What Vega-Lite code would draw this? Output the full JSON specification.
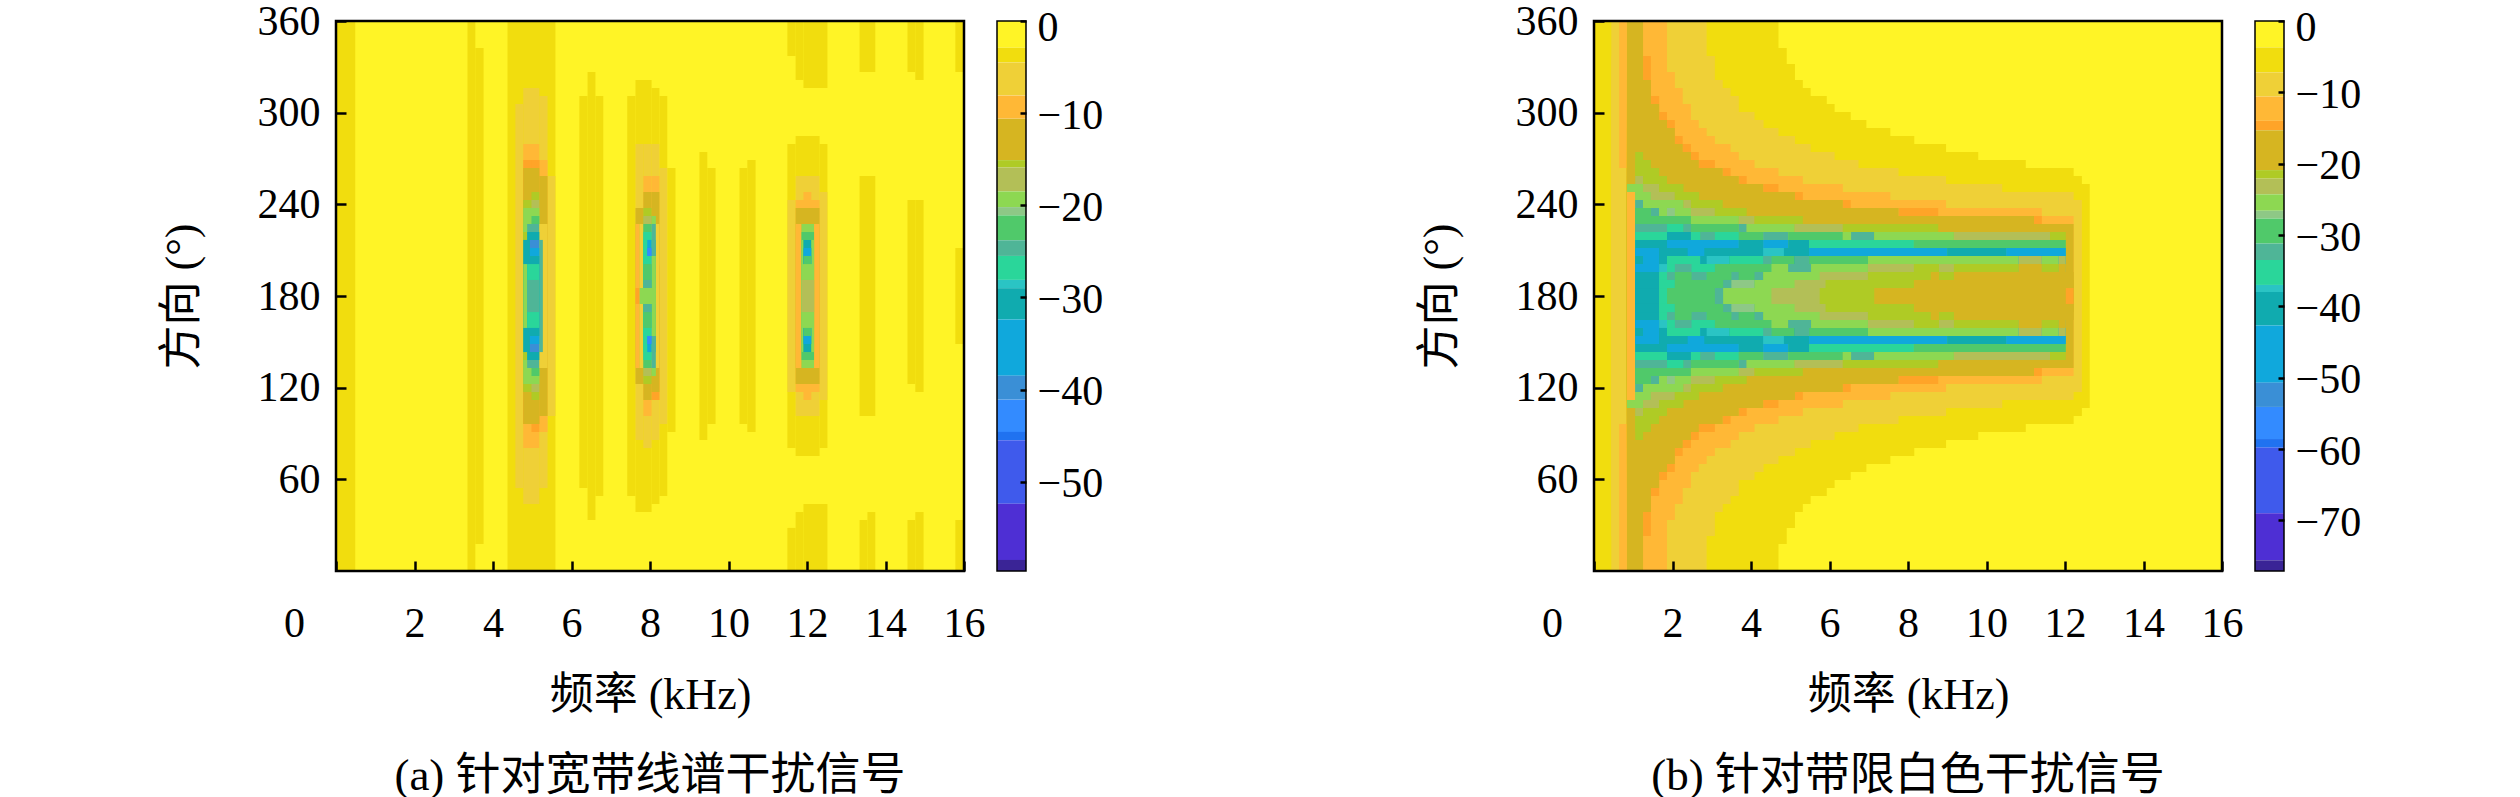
{
"$schema":"https://vega.github.io/schema/vega-lite/v6.json",
"padding":{"left":160,"top":0,"right":10,"bottom":5},
"bounds":"flush",
"spacing":1258,
"config":{"view":{"stroke":null},"font":"Liberation Serif, Noto Sans CJK SC",
"axis":{"labelFont":"Liberation Serif, Noto Sans CJK SC","titleFont":"Liberation Serif, Noto Sans CJK SC","labelFontSize":42,"titleFontSize":44,"titleFontWeight":"normal","labelColor":"#000","titleColor":"#000","grid":false,"domain":false,"tickColor":"#000","tickWidth":2.5,"labelOverlap":false,"labelBound":false,"labelFlush":false},
"title":{"font":"Liberation Serif, Noto Sans CJK SC","fontSize":45,"fontWeight":"normal","color":"#000"}},
"datasets":{
"a":[
{"f":0,"f2":16,"a":0,"a2":360,"v":-1.5},
{"f":0,"f2":0.49,"a":0,"a2":360,"v":-3.7},
{"f":3.35,"f2":3.55,"a":0,"a2":360,"v":-3.7},
{"f":3.55,"f2":3.76,"a":17.7,"a2":342.3,"v":-3.7},
{"f":4.37,"f2":5.59,"a":0,"a2":360,"v":-3.7},
{"f":6.2,"f2":6.41,"a":54.3,"a2":310.9,"v":-3.7},
{"f":6.41,"f2":6.61,"a":33.4,"a2":326.6,"v":-3.7},
{"f":6.61,"f2":6.81,"a":49.1,"a2":310.9,"v":-3.7},
{"f":7.42,"f2":7.63,"a":49.1,"a2":310.9,"v":-3.7},
{"f":7.63,"f2":8.04,"a":38.6,"a2":321.4,"v":-3.7},
{"f":8.04,"f2":8.24,"a":43.9,"a2":316.1,"v":-3.7},
{"f":8.24,"f2":8.44,"a":49.1,"a2":310.9,"v":-3.7},
{"f":8.44,"f2":8.65,"a":91,"a2":263.8,"v":-3.7},
{"f":9.26,"f2":9.46,"a":85.8,"a2":274.2,"v":-3.7},
{"f":9.46,"f2":9.67,"a":96.2,"a2":263.8,"v":-3.7},
{"f":10.28,"f2":10.48,"a":96.2,"a2":263.8,"v":-3.7},
{"f":10.48,"f2":10.69,"a":91,"a2":269,"v":-3.7},
{"f":11.5,"f2":11.71,"a":80.5,"a2":279.5,"v":-3.7},
{"f":11.71,"f2":12.32,"a":75.3,"a2":284.7,"v":-3.7},
{"f":12.32,"f2":12.52,"a":80.5,"a2":279.5,"v":-3.7},
{"f":11.5,"f2":11.71,"a":337.1,"a2":360,"v":-3.7},
{"f":11.71,"f2":11.91,"a":321.4,"a2":360,"v":-3.7},
{"f":11.91,"f2":12.52,"a":316.1,"a2":360,"v":-3.7},
{"f":11.5,"f2":11.71,"a":0,"a2":28.2,"v":-3.7},
{"f":11.71,"f2":11.91,"a":0,"a2":38.6,"v":-3.7},
{"f":11.91,"f2":12.52,"a":0,"a2":43.9,"v":-3.7},
{"f":13.34,"f2":13.74,"a":101.5,"a2":258.5,"v":-3.7},
{"f":13.34,"f2":13.74,"a":326.6,"a2":360,"v":-3.7},
{"f":13.34,"f2":13.54,"a":0,"a2":33.4,"v":-3.7},
{"f":13.54,"f2":13.74,"a":0,"a2":38.6,"v":-3.7},
{"f":14.56,"f2":14.76,"a":122.4,"a2":242.8,"v":-3.7},
{"f":14.76,"f2":14.97,"a":117.2,"a2":242.8,"v":-3.7},
{"f":14.56,"f2":14.76,"a":326.6,"a2":360,"v":-3.7},
{"f":14.76,"f2":14.97,"a":321.4,"a2":360,"v":-3.7},
{"f":14.56,"f2":14.76,"a":0,"a2":33.4,"v":-3.7},
{"f":14.76,"f2":14.97,"a":0,"a2":38.6,"v":-3.7},
{"f":15.78,"f2":16,"a":148.6,"a2":211.4,"v":-3.7},
{"f":15.78,"f2":16,"a":326.6,"a2":360,"v":-3.7},
{"f":15.78,"f2":16,"a":0,"a2":33.4,"v":-3.7},
{"f":4.57,"f2":4.77,"a":54.3,"a2":305.7,"v":-6},
{"f":4.77,"f2":5.18,"a":43.9,"a2":316.1,"v":-6},
{"f":5.18,"f2":5.39,"a":54.3,"a2":310.9,"v":-6},
{"f":5.39,"f2":5.59,"a":101.5,"a2":258.5,"v":-6},
{"f":7.63,"f2":7.83,"a":85.8,"a2":279.5,"v":-6},
{"f":7.83,"f2":8.04,"a":80.5,"a2":279.5,"v":-6},
{"f":8.04,"f2":8.24,"a":85.8,"a2":279.5,"v":-6},
{"f":8.24,"f2":8.44,"a":96.2,"a2":263.8,"v":-6},
{"f":11.71,"f2":12.32,"a":101.5,"a2":258.5,"v":-6},
{"f":11.5,"f2":11.71,"a":117.2,"a2":242.8,"v":-6},
{"f":12.32,"f2":12.52,"a":111.9,"a2":248.1,"v":-6},
{"f":4.77,"f2":5.18,"a":80.5,"a2":279.5,"v":-9.5},
{"f":5.18,"f2":5.39,"a":91,"a2":269,"v":-9.5},
{"f":7.83,"f2":8.04,"a":101.5,"a2":258.5,"v":-9.5},
{"f":8.04,"f2":8.24,"a":111.9,"a2":258.5,"v":-9.5},
{"f":11.91,"f2":12.11,"a":111.9,"a2":248.1,"v":-9.5},
{"f":11.71,"f2":12.32,"a":117.2,"a2":242.8,"v":-9.5},
{"f":4.77,"f2":5.18,"a":96.2,"a2":269,"v":-10.8},
{"f":4.98,"f2":5.18,"a":91,"a2":269,"v":-10.8},
{"f":8.04,"f2":8.24,"a":111.9,"a2":200,"v":-10.8},
{"f":4.77,"f2":5.18,"a":96.2,"a2":263.8,"v":-13},
{"f":5.18,"f2":5.39,"a":101.5,"a2":258.5,"v":-13},
{"f":7.63,"f2":7.83,"a":122.4,"a2":237.6,"v":-13},
{"f":7.83,"f2":8.04,"a":111.9,"a2":248.1,"v":-13},
{"f":8.04,"f2":8.24,"a":117.2,"a2":248.1,"v":-13},
{"f":11.71,"f2":12.32,"a":122.4,"a2":237.6,"v":-13},
{"f":4.98,"f2":5.18,"a":111.9,"a2":248.1,"v":-15.5},
{"f":4.77,"f2":4.98,"a":117.2,"a2":242.8,"v":-15.5},
{"f":4.98,"f2":5.18,"a":117.2,"a2":242.8,"v":-17},
{"f":4.77,"f2":5.18,"a":122.4,"a2":237.6,"v":-19.5},
{"f":4.98,"f2":5.18,"a":127.6,"a2":232.4,"v":-22.5},
{"f":4.77,"f2":4.87,"a":132.9,"a2":227.1,"v":-19.5},
{"f":4.87,"f2":5.18,"a":132.9,"a2":227.1,"v":-24.5},
{"f":5.18,"f2":5.39,"a":132.9,"a2":227.1,"v":-6},
{"f":4.77,"f2":4.87,"a":138.1,"a2":221.9,"v":-15.5},
{"f":4.87,"f2":5.18,"a":138.1,"a2":221.9,"v":-31},
{"f":4.77,"f2":4.94,"a":143.3,"a2":216.7,"v":-31},
{"f":4.94,"f2":5.18,"a":143.3,"a2":216.7,"v":-40},
{"f":5.18,"f2":5.27,"a":143.3,"a2":216.7,"v":-24.5},
{"f":4.94,"f2":5.18,"a":148.6,"a2":211.4,"v":-36},
{"f":4.94,"f2":5.18,"a":153.8,"a2":206.2,"v":-31},
{"f":4.77,"f2":4.87,"a":159.1,"a2":200.9,"v":-19.5},
{"f":4.87,"f2":5.18,"a":159.1,"a2":200.9,"v":-27},
{"f":4.87,"f2":5.18,"a":169.5,"a2":190.5,"v":-24.5},
{"f":7.83,"f2":8.04,"a":122.4,"a2":237.6,"v":-15.5},
{"f":7.83,"f2":8.04,"a":127.6,"a2":232.4,"v":-17},
{"f":8.04,"f2":8.15,"a":127.6,"a2":232.4,"v":-19.5},
{"f":7.63,"f2":7.73,"a":132.9,"a2":227.1,"v":-9.5},
{"f":7.73,"f2":7.83,"a":132.9,"a2":227.1,"v":-6},
{"f":7.83,"f2":8.04,"a":132.9,"a2":227.1,"v":-22.5},
{"f":8.04,"f2":8.15,"a":132.9,"a2":227.1,"v":-24.5},
{"f":8.15,"f2":8.24,"a":132.9,"a2":227.1,"v":-6},
{"f":7.83,"f2":8.04,"a":138.1,"a2":221.9,"v":-27},
{"f":7.83,"f2":7.93,"a":143.3,"a2":216.7,"v":-27},
{"f":7.93,"f2":8.04,"a":143.3,"a2":216.7,"v":-36},
{"f":8.04,"f2":8.15,"a":143.3,"a2":216.7,"v":-24.5},
{"f":7.93,"f2":8.04,"a":148.6,"a2":211.4,"v":-43},
{"f":7.83,"f2":8.04,"a":153.8,"a2":206.2,"v":-27},
{"f":8.04,"f2":8.15,"a":153.8,"a2":206.2,"v":-19.5},
{"f":7.83,"f2":8.04,"a":159.1,"a2":200.9,"v":-22.5},
{"f":7.83,"f2":8.04,"a":169.5,"a2":190.5,"v":-24.5},
{"f":7.73,"f2":8.15,"a":174.8,"a2":185.2,"v":-19.5},
{"f":7.63,"f2":7.73,"a":174.8,"a2":185.2,"v":-10.8},
{"f":11.71,"f2":11.86,"a":132.9,"a2":227.1,"v":-9.5},
{"f":11.86,"f2":12.18,"a":132.9,"a2":227.1,"v":-19.5},
{"f":12.18,"f2":12.32,"a":132.9,"a2":227.1,"v":-9.5},
{"f":11.86,"f2":12.18,"a":138.1,"a2":221.9,"v":-22.5},
{"f":11.86,"f2":11.91,"a":143.3,"a2":216.7,"v":-19.5},
{"f":11.91,"f2":12.11,"a":143.3,"a2":216.7,"v":-31},
{"f":12.11,"f2":12.18,"a":143.3,"a2":216.7,"v":-19.5},
{"f":11.91,"f2":12.11,"a":148.6,"a2":211.4,"v":-36},
{"f":11.91,"f2":12.11,"a":153.8,"a2":206.2,"v":-22.5},
{"f":11.86,"f2":12.18,"a":159.1,"a2":200.9,"v":-19.5},
{"f":11.86,"f2":12.18,"a":169.5,"a2":190.5,"v":-17}
],
"b":[
{"f":0,"f2":16,"a":0,"a2":360,"v":-2},
{"f":0,"f2":4.7,"a":0,"a2":360,"v":-5},
{"f":0,"f2":4.91,"a":17.7,"a2":342.3,"v":-5},
{"f":0,"f2":5.12,"a":28.2,"a2":331.8,"v":-5},
{"f":0,"f2":5.32,"a":38.6,"a2":321.4,"v":-5},
{"f":0,"f2":5.52,"a":43.9,"a2":316.1,"v":-5},
{"f":0,"f2":5.93,"a":49.1,"a2":310.9,"v":-5},
{"f":0,"f2":6.13,"a":54.3,"a2":305.7,"v":-5},
{"f":0,"f2":6.54,"a":59.6,"a2":300.4,"v":-5},
{"f":0,"f2":6.94,"a":64.8,"a2":295.2,"v":-5},
{"f":0,"f2":7.55,"a":70,"a2":290,"v":-5},
{"f":0,"f2":8.16,"a":75.3,"a2":284.7,"v":-5},
{"f":0,"f2":8.97,"a":80.5,"a2":279.5,"v":-5},
{"f":0,"f2":9.79,"a":85.8,"a2":274.2,"v":-5},
{"f":0,"f2":11,"a":91,"a2":269,"v":-5},
{"f":0,"f2":12.22,"a":96.2,"a2":263.8,"v":-5},
{"f":0,"f2":12.43,"a":101.5,"a2":258.5,"v":-5},
{"f":0,"f2":12.63,"a":106.7,"a2":253.3,"v":-5},
{"f":0.44,"f2":2.87,"a":0,"a2":360,"v":-9},
{"f":0.44,"f2":3.08,"a":22.9,"a2":337.1,"v":-9},
{"f":0.44,"f2":3.28,"a":38.6,"a2":321.4,"v":-9},
{"f":0.44,"f2":3.48,"a":43.9,"a2":316.1,"v":-9},
{"f":0.44,"f2":3.69,"a":49.1,"a2":310.9,"v":-9},
{"f":0.44,"f2":4.09,"a":59.6,"a2":300.4,"v":-9},
{"f":0.44,"f2":4.32,"a":64.8,"a2":295.2,"v":-9},
{"f":0.44,"f2":4.7,"a":70,"a2":290,"v":-9},
{"f":0.44,"f2":5.12,"a":75.3,"a2":284.7,"v":-9},
{"f":0.44,"f2":5.52,"a":80.5,"a2":279.5,"v":-9},
{"f":0.44,"f2":6.13,"a":85.8,"a2":274.2,"v":-9},
{"f":0.44,"f2":6.74,"a":91,"a2":269,"v":-9},
{"f":0.44,"f2":7.76,"a":96.2,"a2":263.8,"v":-9},
{"f":0.44,"f2":8.97,"a":101.5,"a2":258.5,"v":-9},
{"f":0.44,"f2":10.4,"a":106.7,"a2":253.3,"v":-9},
{"f":0.44,"f2":12.22,"a":111.9,"a2":248.1,"v":-9},
{"f":0.44,"f2":12.43,"a":117.2,"a2":242.8,"v":-9},
{"f":0.64,"f2":0.84,"a":0,"a2":96.2,"v":-12},
{"f":0.64,"f2":0.84,"a":263.8,"a2":360,"v":-12},
{"f":0.84,"f2":1.86,"a":0,"a2":360,"v":-12},
{"f":0.84,"f2":2.06,"a":33.4,"a2":326.6,"v":-12},
{"f":0.84,"f2":2.26,"a":43.9,"a2":316.1,"v":-12},
{"f":0.84,"f2":2.47,"a":54.3,"a2":305.7,"v":-12},
{"f":0.84,"f2":2.67,"a":64.8,"a2":295.2,"v":-12},
{"f":0.84,"f2":2.87,"a":70,"a2":290,"v":-12},
{"f":0.84,"f2":3.08,"a":75.3,"a2":284.7,"v":-12},
{"f":0.84,"f2":3.48,"a":80.5,"a2":279.5,"v":-12},
{"f":0.84,"f2":3.69,"a":85.8,"a2":274.2,"v":-12},
{"f":0.84,"f2":4.09,"a":91,"a2":269,"v":-12},
{"f":0.84,"f2":4.7,"a":96.2,"a2":263.8,"v":-12},
{"f":0.84,"f2":5.32,"a":101.5,"a2":258.5,"v":-12},
{"f":0.84,"f2":6.34,"a":106.7,"a2":253.3,"v":-12},
{"f":0.84,"f2":7.55,"a":111.9,"a2":248.1,"v":-12},
{"f":0.84,"f2":8.97,"a":117.2,"a2":242.8,"v":-12},
{"f":0.84,"f2":11.41,"a":122.4,"a2":237.6,"v":-12},
{"f":0.84,"f2":12.22,"a":127.6,"a2":232.4,"v":-12},
{"f":1.25,"f2":1.45,"a":22.9,"a2":337.1,"v":-14.7},
{"f":1.45,"f2":1.66,"a":49.1,"a2":310.9,"v":-14.7},
{"f":1.66,"f2":1.86,"a":59.6,"a2":300.4,"v":-14.7},
{"f":1.86,"f2":2.06,"a":64.8,"a2":295.2,"v":-14.7},
{"f":2.06,"f2":2.26,"a":75.3,"a2":284.7,"v":-14.7},
{"f":2.26,"f2":2.47,"a":80.5,"a2":279.5,"v":-14.7},
{"f":2.47,"f2":2.67,"a":85.8,"a2":274.2,"v":-14.7},
{"f":2.67,"f2":3.08,"a":91,"a2":269,"v":-14.7},
{"f":3.28,"f2":3.48,"a":96.2,"a2":263.8,"v":-14.7},
{"f":3.69,"f2":3.89,"a":101.5,"a2":258.5,"v":-14.7},
{"f":4.31,"f2":4.7,"a":106.7,"a2":253.3,"v":-14.7},
{"f":5.12,"f2":5.32,"a":111.9,"a2":248.1,"v":-14.7},
{"f":6.34,"f2":6.54,"a":117.2,"a2":242.8,"v":-14.7},
{"f":7.76,"f2":8.77,"a":122.4,"a2":237.6,"v":-14.7},
{"f":11.21,"f2":11.41,"a":127.6,"a2":232.4,"v":-14.7},
{"f":0.84,"f2":1.25,"a":0,"a2":360,"v":-18},
{"f":0.84,"f2":1.45,"a":38.6,"a2":321.4,"v":-18},
{"f":0.84,"f2":1.66,"a":54.3,"a2":305.7,"v":-18},
{"f":0.84,"f2":1.86,"a":64.8,"a2":295.2,"v":-18},
{"f":0.84,"f2":2.06,"a":70,"a2":290,"v":-18},
{"f":0.84,"f2":2.26,"a":80.5,"a2":279.5,"v":-18},
{"f":0.84,"f2":2.47,"a":85.8,"a2":274.2,"v":-18},
{"f":0.84,"f2":2.67,"a":91,"a2":269,"v":-18},
{"f":0.84,"f2":3.28,"a":96.2,"a2":263.8,"v":-18},
{"f":0.84,"f2":3.69,"a":101.5,"a2":258.5,"v":-18},
{"f":0.84,"f2":4.31,"a":106.7,"a2":253.3,"v":-18},
{"f":0.84,"f2":5.12,"a":111.9,"a2":248.1,"v":-18},
{"f":0.84,"f2":6.34,"a":117.2,"a2":242.8,"v":-18},
{"f":0.84,"f2":7.76,"a":122.4,"a2":237.6,"v":-18},
{"f":0.84,"f2":11.21,"a":127.6,"a2":232.4,"v":-18},
{"f":0.84,"f2":12.22,"a":132.9,"a2":227.1,"v":-18},
{"f":1.05,"f2":1.25,"a":85.8,"a2":274.2,"v":-21.5},
{"f":1.05,"f2":1.45,"a":91,"a2":269,"v":-21.5},
{"f":1.05,"f2":1.66,"a":96.2,"a2":263.8,"v":-21.5},
{"f":1.05,"f2":1.25,"a":101.5,"a2":258.5,"v":-23},
{"f":1.25,"f2":1.86,"a":101.5,"a2":258.5,"v":-21.5},
{"f":0.84,"f2":1.25,"a":106.7,"a2":253.3,"v":-25.5},
{"f":1.25,"f2":1.66,"a":106.7,"a2":253.3,"v":-23},
{"f":1.66,"f2":2.28,"a":106.7,"a2":253.3,"v":-21.5},
{"f":0.84,"f2":1.05,"a":111.9,"a2":248.1,"v":-12},
{"f":1.05,"f2":1.45,"a":111.9,"a2":248.1,"v":-25.5},
{"f":1.45,"f2":2.06,"a":111.9,"a2":248.1,"v":-23},
{"f":2.06,"f2":2.68,"a":111.9,"a2":248.1,"v":-21.5},
{"f":1.05,"f2":1.25,"a":117.2,"a2":242.8,"v":-32.3},
{"f":1.25,"f2":2.28,"a":117.2,"a2":242.8,"v":-25.5},
{"f":2.28,"f2":2.47,"a":117.2,"a2":242.8,"v":-23},
{"f":2.47,"f2":3.28,"a":117.2,"a2":242.8,"v":-21.5},
{"f":1.05,"f2":1.45,"a":122.4,"a2":237.6,"v":-29.5},
{"f":1.45,"f2":1.66,"a":122.4,"a2":237.6,"v":-32.3},
{"f":1.66,"f2":2.47,"a":122.4,"a2":237.6,"v":-25.5},
{"f":1.86,"f2":2.06,"a":122.4,"a2":237.6,"v":-27.2},
{"f":2.47,"f2":3.08,"a":122.4,"a2":237.6,"v":-23},
{"f":3.08,"f2":3.89,"a":122.4,"a2":237.6,"v":-21.5},
{"f":1.05,"f2":2.47,"a":127.6,"a2":232.4,"v":-29.5},
{"f":2.47,"f2":3.69,"a":127.6,"a2":232.4,"v":-25.5},
{"f":3.69,"f2":4.09,"a":127.6,"a2":232.4,"v":-23},
{"f":4.09,"f2":5.32,"a":127.6,"a2":232.4,"v":-21.5},
{"f":1.05,"f2":1.86,"a":132.9,"a2":227.1,"v":-32.3},
{"f":1.86,"f2":2.28,"a":132.9,"a2":227.1,"v":-35},
{"f":2.28,"f2":2.47,"a":132.9,"a2":227.1,"v":-32.3},
{"f":2.47,"f2":3.69,"a":132.9,"a2":227.1,"v":-29.5},
{"f":3.69,"f2":3.89,"a":132.9,"a2":227.1,"v":-32.3},
{"f":3.89,"f2":5.11,"a":132.9,"a2":227.1,"v":-25.5},
{"f":5.11,"f2":6.34,"a":132.9,"a2":227.1,"v":-23},
{"f":6.34,"f2":8.77,"a":132.9,"a2":227.1,"v":-21.5},
{"f":1.05,"f2":1.86,"a":138.1,"a2":221.9,"v":-35},
{"f":1.86,"f2":2.47,"a":138.1,"a2":221.9,"v":-40},
{"f":2.47,"f2":2.71,"a":138.1,"a2":221.9,"v":-35},
{"f":2.71,"f2":3.08,"a":138.1,"a2":221.9,"v":-32.3},
{"f":3.08,"f2":3.69,"a":138.1,"a2":221.9,"v":-35},
{"f":3.69,"f2":4.31,"a":138.1,"a2":221.9,"v":-29.5},
{"f":4.31,"f2":4.95,"a":138.1,"a2":221.9,"v":-32.3},
{"f":4.95,"f2":6.34,"a":138.1,"a2":221.9,"v":-29.5},
{"f":6.34,"f2":6.55,"a":138.1,"a2":221.9,"v":-25.5},
{"f":6.55,"f2":7.14,"a":138.1,"a2":221.9,"v":-32.3},
{"f":7.14,"f2":9.17,"a":138.1,"a2":221.9,"v":-25.5},
{"f":9.17,"f2":11.62,"a":138.1,"a2":221.9,"v":-23},
{"f":11.62,"f2":12.02,"a":138.1,"a2":221.9,"v":-21.5},
{"f":1.05,"f2":1.86,"a":143.3,"a2":216.7,"v":-40},
{"f":1.86,"f2":3.69,"a":143.3,"a2":216.7,"v":-46},
{"f":3.69,"f2":4.31,"a":143.3,"a2":216.7,"v":-40},
{"f":4.31,"f2":4.95,"a":143.3,"a2":216.7,"v":-46},
{"f":4.95,"f2":5.48,"a":143.3,"a2":216.7,"v":-40},
{"f":5.48,"f2":8.15,"a":143.3,"a2":216.7,"v":-35},
{"f":8.15,"f2":12.02,"a":143.3,"a2":216.7,"v":-29.5},
{"f":1.05,"f2":1.66,"a":148.6,"a2":211.4,"v":-46},
{"f":1.66,"f2":2.39,"a":148.6,"a2":211.4,"v":-40},
{"f":2.39,"f2":2.81,"a":148.6,"a2":211.4,"v":-46},
{"f":2.81,"f2":4.31,"a":148.6,"a2":211.4,"v":-40},
{"f":4.31,"f2":4.84,"a":148.6,"a2":211.4,"v":-37.5},
{"f":4.84,"f2":5.48,"a":148.6,"a2":211.4,"v":-40},
{"f":5.48,"f2":9,"a":148.6,"a2":211.4,"v":-46},
{"f":9,"f2":10.5,"a":148.6,"a2":211.4,"v":-40},
{"f":10.5,"f2":12.02,"a":148.6,"a2":211.4,"v":-46},
{"f":1.05,"f2":1.25,"a":153.8,"a2":206.2,"v":-40},
{"f":1.25,"f2":1.66,"a":153.8,"a2":206.2,"v":-46},
{"f":1.66,"f2":1.86,"a":153.8,"a2":206.2,"v":-40},
{"f":1.86,"f2":2.71,"a":153.8,"a2":206.2,"v":-35},
{"f":2.71,"f2":2.87,"a":153.8,"a2":206.2,"v":-40},
{"f":2.87,"f2":3.45,"a":153.8,"a2":206.2,"v":-37.5},
{"f":3.45,"f2":4.31,"a":153.8,"a2":206.2,"v":-35},
{"f":4.31,"f2":4.52,"a":153.8,"a2":206.2,"v":-32.3},
{"f":4.52,"f2":5.11,"a":153.8,"a2":206.2,"v":-29.5},
{"f":5.11,"f2":5.48,"a":153.8,"a2":206.2,"v":-32.3},
{"f":5.48,"f2":6.98,"a":153.8,"a2":206.2,"v":-29.5},
{"f":6.98,"f2":10.82,"a":153.8,"a2":206.2,"v":-25.5},
{"f":10.82,"f2":11.41,"a":153.8,"a2":206.2,"v":-23},
{"f":11.41,"f2":11.84,"a":153.8,"a2":206.2,"v":-25.5},
{"f":11.84,"f2":12.02,"a":153.8,"a2":206.2,"v":-23},
{"f":1.05,"f2":1.66,"a":159.1,"a2":200.9,"v":-46},
{"f":1.66,"f2":1.86,"a":159.1,"a2":200.9,"v":-37.5},
{"f":1.86,"f2":2.06,"a":159.1,"a2":200.9,"v":-35},
{"f":2.06,"f2":2.49,"a":159.1,"a2":200.9,"v":-32.3},
{"f":2.49,"f2":3.08,"a":159.1,"a2":200.9,"v":-35},
{"f":3.08,"f2":4.52,"a":159.1,"a2":200.9,"v":-29.5},
{"f":4.52,"f2":4.95,"a":159.1,"a2":200.9,"v":-25.5},
{"f":4.95,"f2":5.53,"a":159.1,"a2":200.9,"v":-32.3},
{"f":5.53,"f2":6.98,"a":159.1,"a2":200.9,"v":-25.5},
{"f":6.98,"f2":8.15,"a":159.1,"a2":200.9,"v":-23},
{"f":8.15,"f2":8.79,"a":159.1,"a2":200.9,"v":-21.5},
{"f":8.79,"f2":9.17,"a":159.1,"a2":200.9,"v":-23},
{"f":9.17,"f2":10.82,"a":159.1,"a2":200.9,"v":-21.5},
{"f":10.82,"f2":11.41,"a":159.1,"a2":200.9,"v":-18},
{"f":11.41,"f2":11.84,"a":159.1,"a2":200.9,"v":-21.5},
{"f":11.84,"f2":12.02,"a":159.1,"a2":200.9,"v":-18},
{"f":1.05,"f2":1.66,"a":164.3,"a2":195.7,"v":-40},
{"f":1.66,"f2":1.86,"a":164.3,"a2":195.7,"v":-35},
{"f":1.86,"f2":2.06,"a":164.3,"a2":195.7,"v":-32.3},
{"f":2.06,"f2":2.49,"a":164.3,"a2":195.7,"v":-29.5},
{"f":2.49,"f2":2.87,"a":164.3,"a2":195.7,"v":-32.3},
{"f":2.87,"f2":3.5,"a":164.3,"a2":195.7,"v":-29.5},
{"f":3.5,"f2":3.69,"a":164.3,"a2":195.7,"v":-32.3},
{"f":3.69,"f2":4.09,"a":164.3,"a2":195.7,"v":-29.5},
{"f":4.09,"f2":4.31,"a":164.3,"a2":195.7,"v":-32.3},
{"f":4.31,"f2":5.75,"a":164.3,"a2":195.7,"v":-25.5},
{"f":5.75,"f2":6.98,"a":164.3,"a2":195.7,"v":-23},
{"f":6.98,"f2":8.58,"a":164.3,"a2":195.7,"v":-21.5},
{"f":8.58,"f2":8.79,"a":164.3,"a2":195.7,"v":-18},
{"f":8.79,"f2":9.17,"a":164.3,"a2":195.7,"v":-21.5},
{"f":9.17,"f2":12.22,"a":164.3,"a2":195.7,"v":-18},
{"f":1.05,"f2":1.66,"a":169.5,"a2":190.5,"v":-40},
{"f":1.66,"f2":2.06,"a":169.5,"a2":190.5,"v":-35},
{"f":2.06,"f2":3.29,"a":169.5,"a2":190.5,"v":-29.5},
{"f":3.29,"f2":3.5,"a":169.5,"a2":190.5,"v":-32.3},
{"f":3.5,"f2":4.09,"a":169.5,"a2":190.5,"v":-27.2},
{"f":4.09,"f2":5.11,"a":169.5,"a2":190.5,"v":-25.5},
{"f":5.11,"f2":5.9,"a":169.5,"a2":190.5,"v":-23},
{"f":5.9,"f2":8.15,"a":169.5,"a2":190.5,"v":-21.5},
{"f":8.15,"f2":12.22,"a":169.5,"a2":190.5,"v":-18},
{"f":1.05,"f2":1.66,"a":174.8,"a2":185.2,"v":-40},
{"f":1.66,"f2":1.86,"a":174.8,"a2":185.2,"v":-35},
{"f":1.86,"f2":3.08,"a":174.8,"a2":185.2,"v":-29.5},
{"f":3.08,"f2":3.29,"a":174.8,"a2":185.2,"v":-32.3},
{"f":3.29,"f2":4.52,"a":174.8,"a2":185.2,"v":-25.5},
{"f":4.52,"f2":5.75,"a":174.8,"a2":185.2,"v":-23},
{"f":5.75,"f2":7.14,"a":174.8,"a2":185.2,"v":-21.5},
{"f":7.14,"f2":12.02,"a":174.8,"a2":185.2,"v":-18},
{"f":12.02,"f2":12.22,"a":174.8,"a2":185.2,"v":-14.7}
],
"ca":[
{"lo":-2.9,"hi":0,"v":-1.5},{"lo":-4.5,"hi":-2.9,"v":-3.7},{"lo":-8.1,"hi":-4.5,"v":-6},{"lo":-10.6,"hi":-8.1,"v":-9.5},{"lo":-15.1,"hi":-10.6,"v":-13},{"lo":-15.9,"hi":-15.1,"v":-15.5},{"lo":-18.5,"hi":-15.9,"v":-17},{"lo":-20.2,"hi":-18.5,"v":-19.5},{"lo":-21.1,"hi":-20.2,"v":-20.6},{"lo":-23.8,"hi":-21.1,"v":-22.5},{"lo":-25.5,"hi":-23.8,"v":-24.5},{"lo":-28.1,"hi":-25.5,"v":-27},{"lo":-29,"hi":-28.1,"v":-28.5},{"lo":-32.4,"hi":-29,"v":-31},{"lo":-38.5,"hi":-32.4,"v":-36},{"lo":-41.1,"hi":-38.5,"v":-40},{"lo":-44.6,"hi":-41.1,"v":-43},{"lo":-45.5,"hi":-44.6,"v":-45},{"lo":-52.4,"hi":-45.5,"v":-49},{"lo":-58.5,"hi":-52.4,"v":-55},{"lo":-59.7,"hi":-58.5,"v":-59}
],
"cb":[
{"lo":-3.7,"hi":0,"v":-2},{"lo":-7.2,"hi":-3.7,"v":-5},{"lo":-10.6,"hi":-7.2,"v":-9},{"lo":-14,"hi":-10.6,"v":-12},{"lo":-15.3,"hi":-14,"v":-14.7},{"lo":-20.9,"hi":-15.3,"v":-18},{"lo":-22.1,"hi":-20.9,"v":-21.5},{"lo":-24.3,"hi":-22.1,"v":-23},{"lo":-26.6,"hi":-24.3,"v":-25.5},{"lo":-27.7,"hi":-26.6,"v":-27.2},{"lo":-31.2,"hi":-27.7,"v":-29.5},{"lo":-33.5,"hi":-31.2,"v":-32.3},{"lo":-37,"hi":-33.5,"v":-35},{"lo":-38,"hi":-37,"v":-37.5},{"lo":-42.7,"hi":-38,"v":-40},{"lo":-50.7,"hi":-42.7,"v":-46},{"lo":-54.1,"hi":-50.7,"v":-52},{"lo":-58.6,"hi":-54.1,"v":-56},{"lo":-59.8,"hi":-58.6,"v":-59.2},{"lo":-69,"hi":-59.8,"v":-64},{"lo":-75.6,"hi":-69,"v":-72},{"lo":-77.1,"hi":-75.6,"v":-76.5}
]
},
"hconcat":[
{"hconcat":[
{"width":628,"height":550,"title":{"text":"(a) 针对宽带线谱干扰信号","orient":"bottom","anchor":"middle","offset":37},
"layer":[
{"data":{"name":"a"},"mark":{"type":"rect","stroke":null},"encoding":{
"x":{"field":"f","type":"quantitative","title":"频率 (kHz)","scale":{"domain":[0,16],"nice":false},"axis":{"values":[0,2,4,6,8,10,12,14,16],"tickSize":-10,"labelPadding":42,"titlePadding":29,"zindex":1,"labelOffset":{"condition":{"test":"datum.value == 0","value":-42},"value":0}}},
"x2":{"field":"f2"},
"y":{"field":"a","type":"quantitative","title":"方向 (°)","scale":{"domain":[0,360],"nice":false},"axis":{"values":[60,120,180,240,300,360],"tickSize":-10,"labelPadding":26,"titlePadding":53,"zindex":1}},
"y2":{"field":"a2"},
"color":{"field":"v","type":"quantitative","legend":null,"scale":{"type":"threshold","domain":[-58.5,-52.4,-45.5,-44.6,-41.1,-38.5,-32.4,-29,-28.1,-25.5,-23.8,-21.1,-20.2,-18.5,-15.9,-15.1,-10.9,-10.6,-8.1,-4.5,-2.9],"range":["#3A2496","#4E2FD4","#3F5AEC","#2072F0","#338BFF","#3A8FD6","#10A8DC","#10ABAF","#2AC4C4","#2AD69A","#4FB597","#50C96A","#8EC886","#8DD852","#B3BF57","#AFCB25","#D6B521","#FFA428","#FFB836","#EFD037","#F1DD0E","#FFF426"]}}
}},
{"data":{"values":[{"f":0,"f2":16,"a":0,"a2":360}]},"mark":{"type":"rect","fillOpacity":0,"stroke":"#000","strokeWidth":2.5},"encoding":{"x":{"field":"f","type":"quantitative"},"x2":{"field":"f2"},"y":{"field":"a","type":"quantitative"},"y2":{"field":"a2"}}}
]},
{"width":29,"height":550,
"layer":[
{"data":{"name":"ca"},"mark":{"type":"rect","stroke":null},"encoding":{
"y":{"field":"lo","type":"quantitative","title":null,"scale":{"domain":[-59.7,0],"nice":false},"axis":{"orient":"right","values":[0,-10,-20,-30,-40,-50],"tickSize":-6,"labelPadding":17,"labelAlign":"left","zindex":1,"labelOffset":{"condition":{"test":"datum.value == 0","value":6},"value":2}}},
"y2":{"field":"hi"},
"color":{"field":"v","type":"quantitative","legend":null,"scale":{"type":"threshold","domain":[-58.5,-52.4,-45.5,-44.6,-41.1,-38.5,-32.4,-29,-28.1,-25.5,-23.8,-21.1,-20.2,-18.5,-15.9,-15.1,-10.9,-10.6,-8.1,-4.5,-2.9],"range":["#3A2496","#4E2FD4","#3F5AEC","#2072F0","#338BFF","#3A8FD6","#10A8DC","#10ABAF","#2AC4C4","#2AD69A","#4FB597","#50C96A","#8EC886","#8DD852","#B3BF57","#AFCB25","#D6B521","#FFA428","#FFB836","#EFD037","#F1DD0E","#FFF426"]}}
}},
{"data":{"values":[{"lo":-59.7,"hi":0}]},"mark":{"type":"rect","fillOpacity":0,"stroke":"#000","strokeWidth":1.5},"encoding":{"y":{"field":"lo","type":"quantitative"},"y2":{"field":"hi"}}}
]}
],"spacing":33,"bounds":"flush","resolve":{"scale":{"color":"independent","y":"independent","x":"independent"}}},
{"hconcat":[
{"width":628,"height":550,"title":{"text":"(b) 针对带限白色干扰信号","orient":"bottom","anchor":"middle","offset":37},
"layer":[
{"data":{"name":"b"},"mark":{"type":"rect","stroke":null},"encoding":{
"x":{"field":"f","type":"quantitative","title":"频率 (kHz)","scale":{"domain":[0,16],"nice":false},"axis":{"values":[0,2,4,6,8,10,12,14,16],"tickSize":-10,"labelPadding":42,"titlePadding":29,"zindex":1,"labelOffset":{"condition":{"test":"datum.value == 0","value":-42},"value":0}}},
"x2":{"field":"f2"},
"y":{"field":"a","type":"quantitative","title":"方向 (°)","scale":{"domain":[0,360],"nice":false},"axis":{"values":[60,120,180,240,300,360],"tickSize":-10,"labelPadding":26,"titlePadding":53,"zindex":1}},
"y2":{"field":"a2"},
"color":{"field":"v","type":"quantitative","legend":null,"scale":{"type":"threshold","domain":[-75.6,-69,-59.8,-58.6,-54.1,-50.7,-42.7,-38,-37,-33.5,-31.2,-27.7,-26.6,-24.3,-22.1,-20.9,-15.3,-14,-10.6,-7.2,-3.7],"range":["#3A2496","#4E2FD4","#3F5AEC","#2072F0","#338BFF","#3A8FD6","#10A8DC","#10ABAF","#2AC4C4","#2AD69A","#4FB597","#50C96A","#8EC886","#8DD852","#B3BF57","#AFCB25","#D6B521","#FFA428","#FFB836","#EFD037","#F1DD0E","#FFF426"]}}
}},
{"data":{"values":[{"f":0,"f2":16,"a":0,"a2":360}]},"mark":{"type":"rect","fillOpacity":0,"stroke":"#000","strokeWidth":2.5},"encoding":{"x":{"field":"f","type":"quantitative"},"x2":{"field":"f2"},"y":{"field":"a","type":"quantitative"},"y2":{"field":"a2"}}}
]},
{"width":29,"height":550,
"layer":[
{"data":{"name":"cb"},"mark":{"type":"rect","stroke":null},"encoding":{
"y":{"field":"lo","type":"quantitative","title":null,"scale":{"domain":[-77.1,0],"nice":false},"axis":{"orient":"right","values":[0,-10,-20,-30,-40,-50,-60,-70],"tickSize":-6,"labelPadding":17,"labelAlign":"left","zindex":1,"labelOffset":{"condition":{"test":"datum.value == 0","value":6},"value":2}}},
"y2":{"field":"hi"},
"color":{"field":"v","type":"quantitative","legend":null,"scale":{"type":"threshold","domain":[-75.6,-69,-59.8,-58.6,-54.1,-50.7,-42.7,-38,-37,-33.5,-31.2,-27.7,-26.6,-24.3,-22.1,-20.9,-15.3,-14,-10.6,-7.2,-3.7],"range":["#3A2496","#4E2FD4","#3F5AEC","#2072F0","#338BFF","#3A8FD6","#10A8DC","#10ABAF","#2AC4C4","#2AD69A","#4FB597","#50C96A","#8EC886","#8DD852","#B3BF57","#AFCB25","#D6B521","#FFA428","#FFB836","#EFD037","#F1DD0E","#FFF426"]}}
}},
{"data":{"values":[{"lo":-77.1,"hi":0}]},"mark":{"type":"rect","fillOpacity":0,"stroke":"#000","strokeWidth":1.5},"encoding":{"y":{"field":"lo","type":"quantitative"},"y2":{"field":"hi"}}}
]}
],"spacing":33,"bounds":"flush","resolve":{"scale":{"color":"independent","y":"independent","x":"independent"}}}
]
}
